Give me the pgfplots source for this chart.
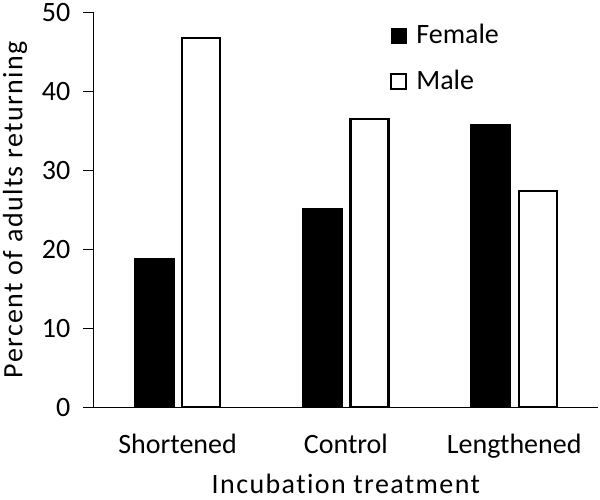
\documentclass[border=0pt]{standalone}
\usepackage{fontspec}
\setmainfont{Carlito}[Ligatures={NoCommon,NoContextual}]
\usepackage{pgfplots}
\pgfplotsset{compat=1.18}
\begin{document}
\begin{tikzpicture}
\begin{axis}[
  scale only axis,
  width=505pt, height=395pt,
  xmin=-0.5, xmax=2.5, ymin=0, ymax=50,
  axis x line=bottom, axis y line=left,
  axis line style={-, line width=1.2pt, black},
  xtick={0,1,2}, xticklabels={Shortened,Control,Lengthened},
  ytick={0,10,...,50},
  xtick style={draw=none},
  ytick style={line width=1.2pt, black},
  tick align=outside,
  major tick length=10pt,
  font=\fontsize{28}{33}\selectfont,
  /pgf/number format/assume math mode=true,
  yticklabel style={anchor=east, inner sep=0pt, xshift=-13pt},
  xticklabel style={anchor=base, inner sep=0pt, yshift=-36pt},
  xlabel={\addfontfeature{LetterSpace=5}Incubation treatment},
  xlabel style={at={([yshift=-86pt]axis description cs:0.5,0)}, anchor=base, inner sep=0pt},
  ylabel={\addfontfeature{LetterSpace=5}Percent of adults returning},
  ylabel style={at={([xshift=-71pt]axis description cs:0,0.5)}, anchor=base, rotate=0, inner sep=0pt},
  legend style={draw=none, fill=none, at={(axis description cs:0.588,0.97)}, anchor=north west,
    row sep=25pt, inner sep=0pt, outer sep=0pt, column sep=9pt,
    nodes={inner sep=0pt, anchor=base west}},
]
\addplot[ybar, bar width=40pt, bar shift=-23.5pt, fill=black, draw=black, line width=1pt,
  legend image code/.code={\draw[fill=black, draw=black, line width=1.5pt] (0pt,0pt) rectangle (15pt,15pt);}]
  coordinates {(0,18.8) (1,25.2) (2,35.8)};
\addlegendentry{Female}
\addplot[ybar, bar width=38pt, bar shift=23.5pt, fill=white, draw=black, line width=2.2pt,
  legend image code/.code={\draw[fill=white, draw=black, line width=2pt] (0pt,0pt) rectangle (15pt,15pt);}]
  coordinates {(0,46.7) (1,36.5) (2,27.4)};
\addlegendentry{Male}
\end{axis}
\path (current bounding box.south west) ++(-3pt,-6pt) coordinate (pa);
\path (current bounding box.north east) ++(1pt,3pt) coordinate (pb);
\path (pa) (pb);
\end{tikzpicture}
\end{document}
